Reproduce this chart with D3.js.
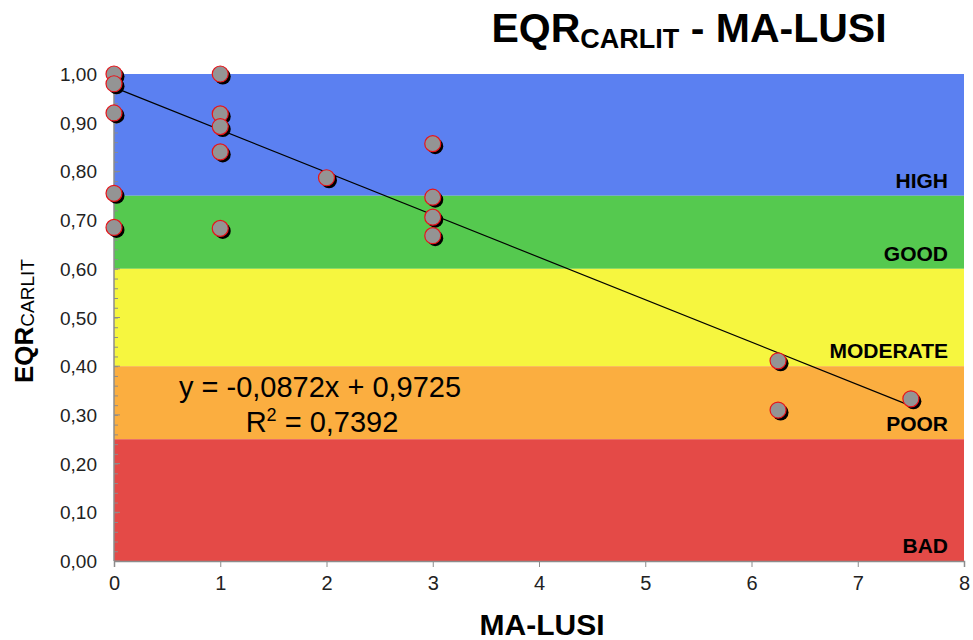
<!DOCTYPE html>
<html>
<head>
<meta charset="utf-8">
<script src="https://cdn.jsdelivr.net/npm/d3@7/dist/d3.min.js"></script>
<style>
    body { margin: 0; background: #fff; }
    svg text { font-family: "Liberation Sans", Arial, sans-serif; }
</style>
</head>
<body>
<svg id="chart" width="973" height="640"></svg>
<script>
// MA-LUSI score of each site and its EQR(CARLIT)
var maLusi = [0, 0, 0, 0, 0, 1, 1, 1, 1, 1, 2, 3, 3, 3, 3, 6.25, 6.25, 7.5];
var eqr = [1.00, 0.98, 0.92, 0.755, 0.685, 1.00, 0.918, 0.892, 0.84, 0.683, 0.787, 0.857, 0.747, 0.706, 0.668, 0.411, 0.31, 0.333];

// quality classes
var classNames = ["HIGH", "GOOD", "MODERATE", "POOR", "BAD"];
var classLow = [0.75, 0.6, 0.4, 0.25, 0];
var classHigh = [1, 0.75, 0.6, 0.4, 0.25];
var classColors = ["#5b80f1", "#55c94f", "#f6f63f", "#fbae40", "#e44a47"];

// linear trend shown on the chart
var slope = -0.0872, intercept = 0.9725, r2 = 0.7392;

var xTicks = [0, 1, 2, 3, 4, 5, 6, 7, 8];
var yTicks = [0, 0.1, 0.2, 0.3, 0.4, 0.5, 0.6, 0.7, 0.8, 0.9, 1.0];

var svg = d3.select("#chart"),
    pLeft = 114, pRight = 964, pTop = 74, pBottom = 561,
    x = d3.scaleLinear().domain([0, 8]).range([pLeft, pRight]),
    y = d3.scaleLinear().domain([0, 1]).range([pBottom, pTop]),
    comma = function(v, d) { return v.toFixed(d).replace(".", ","); };

// coloured class bands
var bands = svg.append("g");
classNames.forEach(function(name, i) {
    bands.append("rect")
        .attr("x", x(0))
        .attr("width", x(8) - x(0))
        .attr("y", y(classHigh[i]))
        .attr("height", y(classLow[i]) - y(classHigh[i]))
        .attr("fill", classColors[i]);
});
classNames.forEach(function(name, i) {
    bands.append("text")
        .attr("x", 948)
        .attr("y", y(classLow[i]) - 8)
        .attr("text-anchor", "end")
        .attr("font-size", 21)
        .attr("font-weight", "bold")
        .attr("fill", "#000")
        .text(name);
});

// axes
var axisColor = "#8c8c8c";
var yAxis = svg.append("g")
    .attr("transform", "translate(" + pLeft + ",0)")
    .call(d3.axisRight(y).tickValues(d3.range(0, 1.001, 0.02)).tickSize(4).tickFormat(""));
yAxis.selectAll("line").attr("stroke", axisColor);
yAxis.select(".domain").remove();

svg.append("g").selectAll("line").data(yTicks).join("line")
    .attr("x1", pLeft).attr("x2", pLeft + 6)
    .attr("y1", function(d) { return y(d); })
    .attr("y2", function(d) { return y(d); })
    .attr("stroke", axisColor);

svg.append("line")
    .attr("x1", pLeft).attr("x2", pLeft)
    .attr("y1", y(1)).attr("y2", y(0))
    .attr("stroke", axisColor).attr("stroke-width", 1.5);

svg.append("g").selectAll("text").data(yTicks).join("text")
    .attr("x", 97)
    .attr("y", function(d) { return y(d) + 7; })
    .attr("text-anchor", "end")
    .attr("font-size", 19)
    .attr("fill", "#222")
    .text(function(d) { return comma(d, 2); });

var xAxis = svg.append("g")
    .attr("transform", "translate(0," + pBottom + ")")
    .call(d3.axisBottom(x).tickValues(xTicks).tickSize(6).tickPadding(9).tickFormat(d3.format("d")));
xAxis.select(".domain").attr("stroke", axisColor).attr("stroke-width", 1.5);
xAxis.selectAll("line").attr("stroke", axisColor);
xAxis.selectAll("text")
    .attr("font-size", 20)
    .attr("font-family", "Liberation Sans, Arial, sans-serif")
    .attr("fill", "#222");

// trend line
var xMax = d3.max(maLusi);
svg.append("line")
    .attr("x1", x(0)).attr("y1", y(intercept))
    .attr("x2", x(xMax)).attr("y2", y(intercept + slope * xMax))
    .attr("stroke", "#000")
    .attr("stroke-width", 1.2);

// points with shadow
var pts = d3.range(maLusi.length);
svg.append("g").selectAll("circle").data(pts).join("circle")
    .attr("cx", function(i) { return x(maLusi[i]) + 2.5; })
    .attr("cy", function(i) { return y(eqr[i]) + 2.5; })
    .attr("r", 8)
    .attr("fill", "#000");
svg.append("g").selectAll("circle").data(pts).join("circle")
    .attr("cx", function(i) { return x(maLusi[i]); })
    .attr("cy", function(i) { return y(eqr[i]); })
    .attr("r", 8)
    .attr("fill", "#949494")
    .attr("stroke", "#e8141a")
    .attr("stroke-width", 1.2);

// equation
svg.append("text")
    .attr("x", 320).attr("y", 397)
    .attr("text-anchor", "middle")
    .attr("font-size", 29)
    .text("y = " + comma(slope, 4) + "x + " + comma(intercept, 4));
var r2Text = svg.append("text")
    .attr("x", 322).attr("y", 432)
    .attr("text-anchor", "middle")
    .attr("font-size", 29);
r2Text.append("tspan").text("R");
r2Text.append("tspan").attr("font-size", 18).attr("dy", -11).text("2");
r2Text.append("tspan").attr("dy", 11).text(" = " + comma(r2, 4));

// title
var title = svg.append("text")
    .attr("x", 689).attr("y", 42)
    .attr("text-anchor", "middle")
    .attr("font-size", 41)
    .attr("font-weight", "bold");
title.append("tspan").text("EQR");
title.append("tspan").attr("font-size", 27).attr("dy", 6).text("CARLIT");
title.append("tspan").attr("dy", -6).text(" - MA-LUSI");

// axis titles
svg.append("text")
    .attr("x", 542).attr("y", 635)
    .attr("text-anchor", "middle")
    .attr("font-size", 30)
    .attr("font-weight", "bold")
    .text("MA-LUSI");

var yTitle = svg.append("text")
    .attr("transform", "translate(33,383) rotate(-90)")
    .attr("font-size", 26)
    .attr("font-weight", "bold");
yTitle.append("tspan").text("EQR");
yTitle.append("tspan").attr("font-size", 19).attr("font-weight", "normal").attr("dy", 1).text("CARLIT");
</script>
</body>
</html>
